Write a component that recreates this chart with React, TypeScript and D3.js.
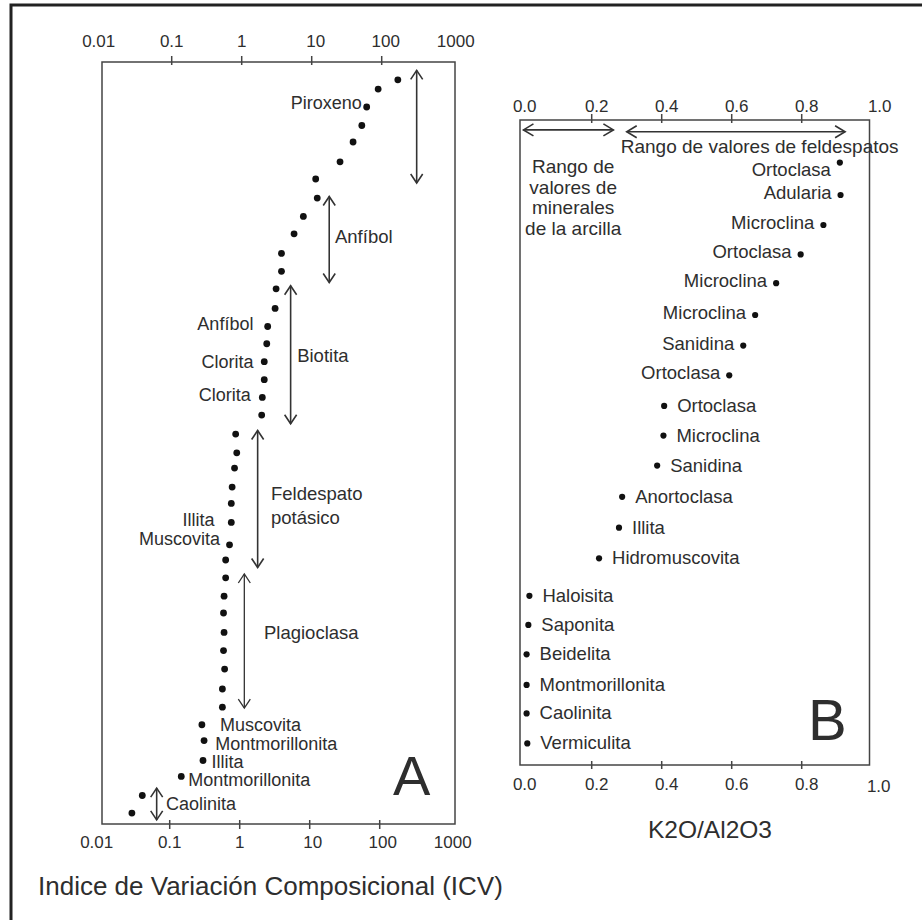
import React from "react";
import * as d3 from "d3";

// ---------- Panel A data (ICV, log scale) ----------
const ICV_VALUES = [170, 89, 61, 52, 39, 25.4, 11.4, 12.0, 7.6, 5.6, 3.7, 3.7, 3.1, 3.0, 2.35, 2.28, 2.1, 2.1, 1.97, 1.93, 0.82, 0.85, 0.79, 0.73, 0.71, 0.71, 0.67, 0.59, 0.59, 0.56, 0.55, 0.56, 0.55, 0.57, 0.53, 0.53, 0.27, 0.29, 0.28, 0.137, 0.038, 0.027];
const ICV_ROWS = [0.98, 1.49, 2.48, 3.5, 4.41, 5.5, 6.45, 7.5, 8.51, 9.47, 10.55, 11.54, 12.5, 13.58, 14.58, 15.53, 16.52, 17.51, 18.49, 19.46, 20.51, 21.54, 22.38, 23.43, 24.33, 25.38, 26.61, 27.45, 28.43, 29.44, 30.37, 31.44, 32.44, 33.46, 34.56, 35.56, 36.53, 37.4, 38.5, 39.38, 40.43, 41.4];

const ICV_LABELS = ["Piroxeno", "Anfíbol", "Clorita", "Clorita", "Illita", "Muscovita", "Muscovita", "Montmorillonita", "Illita", "Montmorillonita", "Caolinita"];
const ICV_LABEL_X = [52, 1.47, 1.47, 1.35, 0.41, 0.49, 0.49, 0.42, 0.37, 0.172, 0.083];
const ICV_LABEL_ROW = [2.59, 14.76, 16.84, 18.67, 25.55, 26.6, 36.86, 37.91, 38.92, 39.93, 41.22];
const ICV_LABEL_SIDE = ["end", "end", "end", "end", "end", "end", "start", "start", "start", "start", "start"];

const GROUP_LABELS = [["Anfíbol"], ["Biotita"], ["Feldespato", "potásico"], ["Plagioclasa"]];
const GROUP_X = [21.5, 6.2, 2.62, 2.08];
const GROUP_ROW = [9.98, 16.54, 24.13, 31.81];

const RANGE_A_X = [316, 17.8, 5.0, 1.69, 1.09, 0.061];
const RANGE_A_FROM = [0.46, 7.41, 12.33, 20.31, 28.22, 40.02];
const RANGE_A_TO = [6.67, 12.15, 19.94, 27.86, 35.61, 41.77];

const ICV_TICKS = [0.01, 0.1, 1, 10, 100, 1000];
const ICV_TICK_LABELS = ["0.01", "0.1", "1", "10", "100", "1000"];

// ---------- Panel B data (K2O/Al2O3) ----------
const K_NAMES = ["Ortoclasa", "Adularia", "Microclina", "Ortoclasa", "Microclina", "Microclina", "Sanidina", "Ortoclasa", "Ortoclasa", "Microclina", "Sanidina", "Anortoclasa", "Illita", "Hidromuscovita", "Haloisita", "Saponita", "Beidelita", "Montmorillonita", "Caolinita", "Vermiculita"];
const K_VALUES = [0.909, 0.911, 0.862, 0.797, 0.727, 0.667, 0.633, 0.593, 0.407, 0.405, 0.387, 0.287, 0.278, 0.221, 0.022, 0.019, 0.014, 0.014, 0.014, 0.016];
const K_ROWS = [1.42, 2.5, 3.5, 4.48, 5.44, 6.5, 7.52, 8.51, 9.53, 10.52, 11.52, 12.56, 13.59, 14.61, 15.86, 16.83, 17.81, 18.83, 19.78, 20.78];
const K_SIDE = ["below", "end", "end", "end", "end", "end", "end", "end", "start", "start", "start", "start", "start", "start", "start", "start", "start", "start", "start", "start"];

const RANGE_B_FROM = [0.005, 0.3];
const RANGE_B_TO = [0.262, 0.924];
const RANGE_B_ROW = [0.33, 0.39];

const K_TICKS = [0, 0.2, 0.4, 0.6, 0.8, 1.0];
const K_TICK_LABELS = ["0.0", "0.2", "0.4", "0.6", "0.8", "1.0"];

const FELD_TEXT = "Rango de valores de feldespatos";
const FELD_X = 0.283;
const FELD_ROW = 1.09;
const CLAY_TEXT = ["Rango de", "valores de", "minerales", "de la arcilla"];
const CLAY_X = 0.147;
const CLAY_ROW = 1.77;

// ---------- layout ----------
const W = 922;
const H = 920;
const FONT = "'Liberation Sans', Arial, Helvetica, sans-serif";
const INK = "#2e2e2e";
const A = { left: 102, right: 455, top: 62, bottom: 824 };
const B = { left: 520, right: 869.5, top: 120, bottom: 765 };

function vArrow(x: number, y1: number, y2: number, key: string, sw = 1.6) {
  const hw = 6, hh = 9;
  return (
    <g key={key} stroke="#333" strokeWidth={sw} fill="none">
      <line x1={x} y1={y1} x2={x} y2={y2} />
      <path d={`M${x - hw},${y1 + hh} L${x},${y1} L${x + hw},${y1 + hh}`} />
      <path d={`M${x - hw},${y2 - hh} L${x},${y2} L${x + hw},${y2 - hh}`} />
    </g>
  );
}

function hArrow(x1: number, x2: number, y: number, key: string) {
  const hw = 6, hh = 10;
  return (
    <g key={key} stroke="#333" strokeWidth={1.6} fill="none">
      <line x1={x1} y1={y} x2={x2} y2={y} />
      <path d={`M${x1 + hh},${y - hw} L${x1},${y} L${x1 + hh},${y + hw}`} />
      <path d={`M${x2 - hh},${y - hw} L${x2},${y} L${x2 - hh},${y + hw}`} />
    </g>
  );
}

export default function App() {
  const xA = d3.scaleLog().domain([0.01, 1000]).range([101.7, 451.7]);
  const yA = d3.scaleLinear().domain([0, 42]).range([A.top, A.bottom]);
  const xB = d3.scaleLinear().domain([0, 1]).range([521.7, 871.7]);
  const yB = d3.scaleLinear().domain([0, 21.5]).range([B.top, B.bottom]);

  const labelSize = 18;

  return (
    <svg
      width={W}
      height={H}
      style={{ position: "absolute", left: 0, top: 0, background: "#fff" }}
      fontFamily={FONT}
    >
      <rect x={0} y={0} width={W} height={H} fill="#fff" />
      {/* outer frame */}
      <rect x={11} y={5} width={W + 10} height={H + 10} fill="none" stroke="#222" strokeWidth={3} />

      {/* ---------------- Panel A ---------------- */}
      <rect x={A.left} y={A.top} width={A.right - A.left} height={A.bottom - A.top} fill="none" stroke="#444" strokeWidth={1.5} />
      {ICV_TICKS.slice(1, -1).map((t, i) => (
        <g key={"at" + i} stroke="#444" strokeWidth={1.5}>
          <line x1={xA(t)} x2={xA(t)} y1={A.top - 6} y2={A.top + 3} />
          <line x1={xA(t) - 2} x2={xA(t) - 2} y1={A.bottom - 4} y2={A.bottom + 5} />
        </g>
      ))}
      {ICV_TICKS.map((t, i) => (
        <g key={"atl" + i} fontSize={17} fill={INK} textAnchor="middle">
          <text x={xA(t) + (i < 1 ? -3 : i > 2 ? 4 : 0)} y={46.7}>{ICV_TICK_LABELS[i]}</text>
          <text x={xA(t) + (i < 1 ? -5 : i > 2 ? 1 : -2)} y={848}>{ICV_TICK_LABELS[i]}</text>
        </g>
      ))}
      <text x={38} y={895} fontSize={26} fill={INK}>Indice de Variación Composicional (ICV)</text>

      {ICV_VALUES.map((v, i) => (
        <circle key={"ad" + i} cx={xA(v)} cy={yA(ICV_ROWS[i])} r={3.4} fill="#111" />
      ))}
      {ICV_LABELS.map((s, i) => (
        <text key={"al" + i} x={xA(ICV_LABEL_X[i])} y={yA(ICV_LABEL_ROW[i])} fontSize={labelSize} fill={INK} textAnchor={ICV_LABEL_SIDE[i]}>
          {s}
        </text>
      ))}
      {GROUP_LABELS.map((lines, i) => (
        <text key={"ag" + i} x={xA(GROUP_X[i])} y={yA(GROUP_ROW[i])} fontSize={labelSize + 0.5} fill={INK}>
          {lines.map((ln, j) => (
            <tspan key={j} x={xA(GROUP_X[i])} dy={j === 0 ? 0 : 24}>{ln}</tspan>
          ))}
        </text>
      ))}
      {RANGE_A_X.map((v, i) => vArrow(xA(v), yA(RANGE_A_FROM[i]), yA(RANGE_A_TO[i]), "aa" + i, i === 4 ? 1.3 : 1.6))}
      <text x={393} y={795} fontSize={56} fill={INK}>A</text>

      {/* ---------------- Panel B ---------------- */}
      <rect x={B.left} y={B.top} width={B.right - B.left} height={B.bottom - B.top} fill="none" stroke="#444" strokeWidth={1.5} />
      {K_TICKS.slice(1, -1).map((t, i) => (
        <g key={"bt" + i} stroke="#444" strokeWidth={1.5}>
          <line x1={xB(t)} x2={xB(t)} y1={B.top - 6} y2={B.top + 3} />
          <line x1={xB(t)} x2={xB(t)} y1={B.bottom - 4} y2={B.bottom + 4} />
        </g>
      ))}
      {K_TICKS.map((t, i) => (
        <g key={"btl" + i} fontSize={17} fill={INK} textAnchor="middle">
          <text x={xB(t) + (i === 5 ? 8 : i === 0 ? 3 : 5)} y={111.7}>{K_TICK_LABELS[i]}</text>
          <text x={xB(t) + (i === 5 ? 7 : i === 0 ? 3 : 5)} y={i === 5 ? 792 : 789.5}>{K_TICK_LABELS[i]}</text>
        </g>
      ))}
      <text x={710} y={837.7} fontSize={24.5} fill={INK} textAnchor="middle">K2O/Al2O3</text>

      {K_VALUES.map((v, i) => (
        <circle key={"bd" + i} cx={xB(v)} cy={yB(K_ROWS[i])} r={3.1} fill="#111" />
      ))}
      {K_NAMES.map((s, i) => {
        const side = K_SIDE[i];
        const cx = xB(K_VALUES[i]);
        const cy = yB(K_ROWS[i]);
        if (side === "below")
          return <text key={"bl" + i} x={cx - 9} y={cy + 13} fontSize={labelSize + 0.5} fill={INK} textAnchor="end">{s}</text>;
        if (side === "end")
          return <text key={"bl" + i} x={cx - 9} y={cy + 4} fontSize={labelSize + 0.5} fill={INK} textAnchor="end">{s}</text>;
        return <text key={"bl" + i} x={cx + 13} y={cy + 6} fontSize={labelSize + 0.5} fill={INK}>{s}</text>;
      })}
      {RANGE_B_FROM.map((v, i) => hArrow(xB(v), xB(RANGE_B_TO[i]), yB(RANGE_B_ROW[i]), "ba" + i))}
      <text x={xB(FELD_X)} y={yB(FELD_ROW)} fontSize={19} fill={INK}>{FELD_TEXT}</text>
      <text x={xB(CLAY_X)} y={yB(CLAY_ROW)} fontSize={19} fill={INK} textAnchor="middle">
        {CLAY_TEXT.map((ln, j) => (
          <tspan key={j} x={xB(CLAY_X)} dy={j === 0 ? 0 : 20.5}>{ln}</tspan>
        ))}
      </text>
      <text x={808} y={740} fontSize={58} fill={INK}>B</text>
    </svg>
  );
}
